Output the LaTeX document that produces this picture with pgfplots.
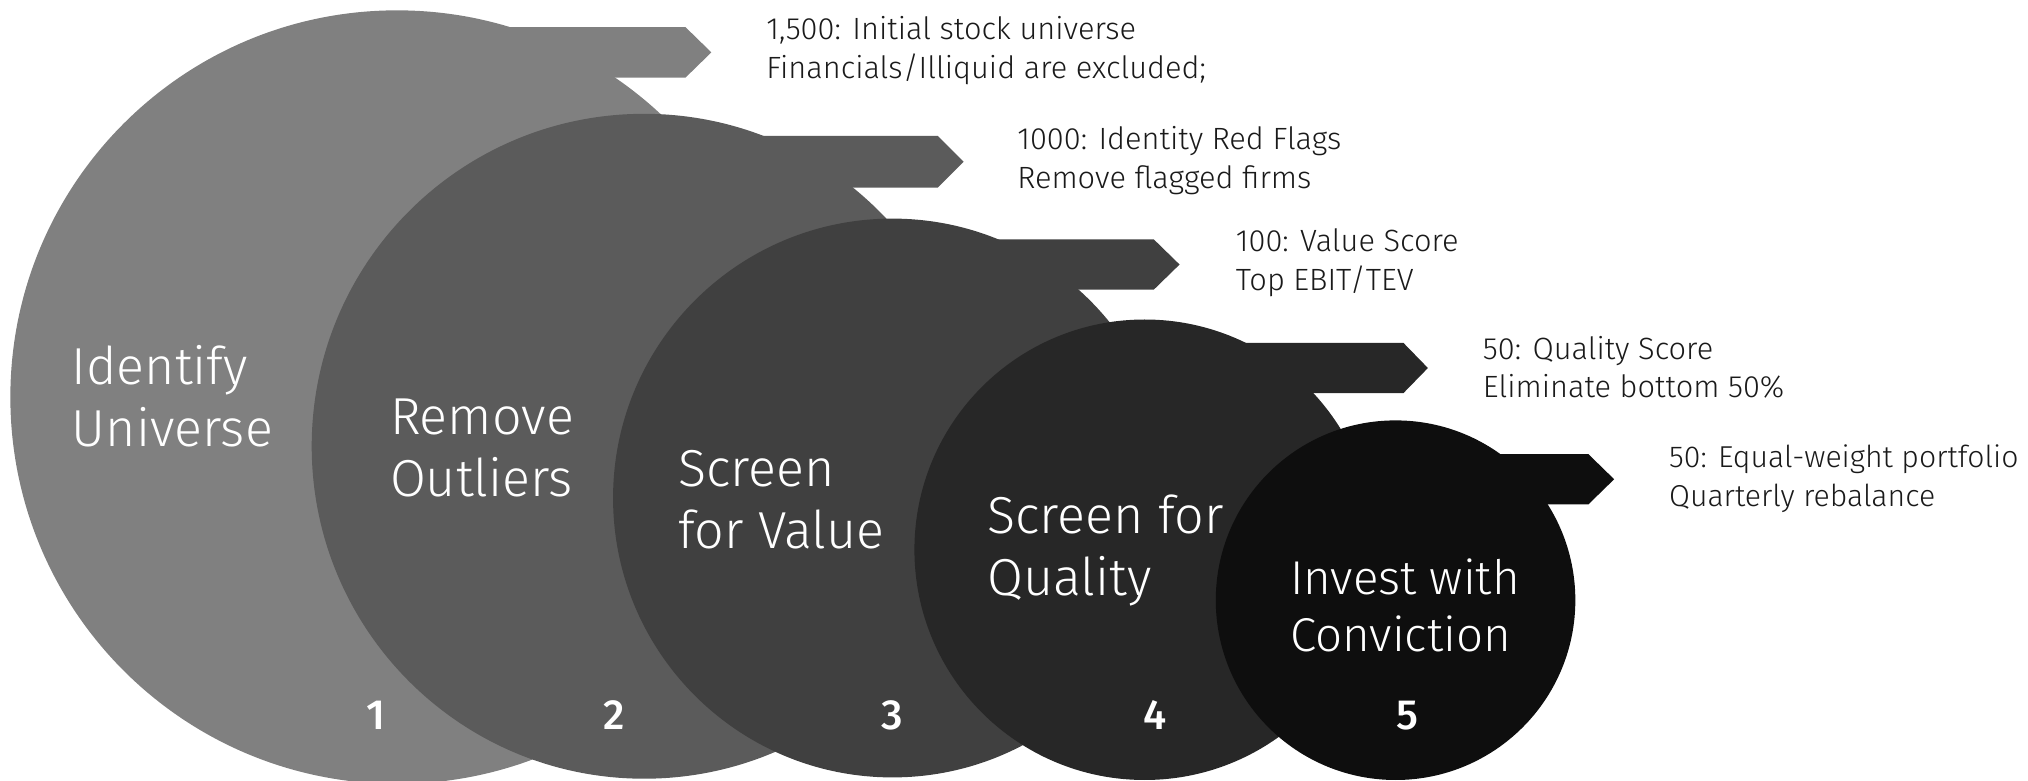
\documentclass[border=0pt]{standalone}
\usepackage{pgfplots}
\pgfplotsset{compat=1.18}
\usepackage{fontspec}
\setmainfont{Fira Sans Light}
\newfontfamily\medfont{Fira Sans Medium}
\definecolor{c1}{HTML}{808080}
\definecolor{c2}{HTML}{5B5B5B}
\definecolor{c3}{HTML}{404040}
\definecolor{c4}{HTML}{272727}
\definecolor{c5}{HTML}{0E0E0E}
\definecolor{txt}{HTML}{1A1A1A}
\begin{document}
\begin{tikzpicture}
\begin{axis}[
  width=20.28cm, height=7.8cm, scale only axis,
  xmin=0, xmax=1568, ymin=0, ymax=603,
  hide axis, clip=true,
]
% stage 1
\fill[c1] (axis cs:307,296) circle[radius=299];
\addplot[fill=c1, draw=none] coordinates {(307,582) (530,582) (550,562.5) (530,543) (307,543)} --cycle;
% stage 2
\fill[c2] (axis cs:498,258) circle[radius=257];
\addplot[fill=c2, draw=none] coordinates {(498,498) (725,498) (745,478) (725,458) (498,458)} --cycle;
% stage 3
\fill[c3] (axis cs:690,218) circle[radius=216];
\addplot[fill=c3, draw=none] coordinates {(690,418) (892,418) (912,398.5) (892,379) (690,379)} --cycle;
% stage 4
\fill[c4] (axis cs:885,178) circle[radius=178];
\addplot[fill=c4, draw=none] coordinates {(885,338) (1085,338) (1104,318.5) (1085,299) (885,299)} --cycle;
% stage 5
\fill[c5] (axis cs:1079,139) circle[radius=139];
\addplot[fill=c5, draw=none] coordinates {(1079,252) (1228,252) (1248,232.5) (1228,213) (1079,213)} --cycle;

% big labels
\begin{scope}[every node/.style={anchor=west, inner sep=0pt, align=left, text=white, font=\fontsize{14.8}{17.7}\selectfont}]
\node at (axis cs:55,297) {Identify\\Universe};
\node at (axis cs:301,256.5) {Remove\\Outliers};
\node at (axis cs:524,217) {Screen\\for Value};
\node at (axis cs:763,177.5) {Screen for\\Quality};
\node[font=\fontsize{13.5}{16.3}\selectfont] at (axis cs:997,135) {Invest with\\Conviction};
\end{scope}
% numbers
\begin{scope}[every node/.style={anchor=center, inner sep=0pt, text=white, font=\medfont\fontsize{12}{14}\selectfont}]
\node at (axis cs:291,50) {1};
\node at (axis cs:475,50) {2};
\node at (axis cs:690,50) {3};
\node at (axis cs:893,50) {4};
\node at (axis cs:1088,50) {5};
\end{scope}
% descriptions
\begin{scope}[every node/.style={anchor=west, inner sep=0pt, align=left, text=txt, font=\fontsize{8.75}{11}\selectfont}]
\node at (axis cs:592,564) {1,500: Initial stock universe\\Financials/Illiquid are excluded;};
\node at (axis cs:786,479) {1000: Identity Red Flags\\Remove flagged firms};
\node at (axis cs:955,400) {100: Value Score\\Top EBIT/TEV};
\node at (axis cs:1146,319) {50: Quality Score\\Eliminate bottom 50\%};
\node[font=\fontsize{8.6}{11}\selectfont] at (axis cs:1290,233) {50: Equal-weight portfolio\\Quarterly rebalance};
\end{scope}
\end{axis}
\pgfresetboundingbox
\path (current axis.south west) rectangle (current axis.north east);
\end{tikzpicture}
\end{document}
